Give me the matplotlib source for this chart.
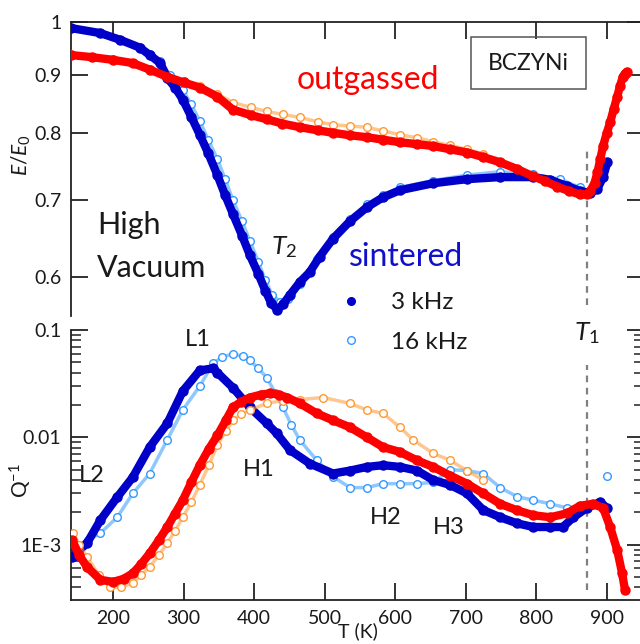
import matplotlib
matplotlib.use("Agg")
import matplotlib.pyplot as plt
from matplotlib.lines import Line2D
from matplotlib.patches import Rectangle

plt.rcParams['font.family'] = ['Lato', 'DejaVu Sans']
plt.rcParams['mathtext.fontset'] = 'custom'
plt.rcParams['mathtext.rm'] = 'Lato'
plt.rcParams['mathtext.it'] = 'Lato:italic'

# ---------------- modulus E/E0 (upper panel) ----------------
sint3_T_mod = [140, 182, 210, 238, 252, 267, 277, 288, 299, 311, 323, 335, 348, 359, 370,
               383, 394, 406, 416, 424, 433, 441, 451, 465, 479, 493, 512, 536, 560, 583,
               607, 654, 702, 749, 796, 820, 844, 862, 877, 887, 895, 901]
sint3_E = [0.988, 0.978, 0.965, 0.950, 0.936, 0.921, 0.894, 0.877, 0.856, 0.827, 0.798, 0.769,
           0.736, 0.707, 0.681, 0.652, 0.627, 0.604, 0.584, 0.570, 0.562, 0.568, 0.579, 0.594,
           0.606, 0.625, 0.648, 0.671, 0.690, 0.704, 0.714, 0.724, 0.730, 0.733, 0.733, 0.729,
           0.720, 0.713, 0.710, 0.716, 0.733, 0.755]

sint16_T_mod = [140, 182, 210, 238, 252, 267, 281, 299, 311, 323, 335, 348, 359, 370, 383,
                394, 406, 416, 426, 437, 448, 465, 489, 512, 536, 560, 583, 607, 654, 702,
                749, 796, 834, 862, 877]
sint16_E = [0.988, 0.978, 0.965, 0.951, 0.938, 0.924, 0.900, 0.873, 0.848, 0.820, 0.790, 0.760,
            0.730, 0.700, 0.671, 0.645, 0.619, 0.596, 0.579, 0.571, 0.574, 0.592, 0.622, 0.650,
            0.674, 0.694, 0.707, 0.718, 0.728, 0.736, 0.741, 0.737, 0.730, 0.718, 0.712]

outg3_T_mod = [140, 170, 200, 228, 252, 277, 300, 323, 348, 370, 395, 418, 440, 465, 490,
               512, 536, 560, 583, 607, 631, 654, 678, 702, 725, 749, 773, 796, 813, 830,
               846, 862, 872, 877, 883, 887, 891, 895, 900, 905, 910, 915, 919, 923, 926, 929]
outg3_E = [0.936, 0.932, 0.927, 0.921, 0.909, 0.896, 0.886, 0.877, 0.861, 0.839, 0.830, 0.823,
           0.816, 0.810, 0.805, 0.801, 0.797, 0.794, 0.790, 0.786, 0.783, 0.780, 0.775, 0.770,
           0.763, 0.755, 0.745, 0.734, 0.727, 0.719, 0.713, 0.708, 0.708, 0.713, 0.725, 0.740,
           0.760, 0.780, 0.800, 0.818, 0.840, 0.861, 0.880, 0.896, 0.902, 0.905]

outg16_T_mod = [140, 200, 252, 300, 323, 348, 370, 395, 418, 441, 465, 490, 512, 536, 560,
                583, 607, 631, 654, 678, 702, 725]
outg16_E = [0.938, 0.928, 0.911, 0.889, 0.880, 0.866, 0.851, 0.843, 0.836, 0.831, 0.826, 0.819,
            0.814, 0.812, 0.810, 0.804, 0.798, 0.793, 0.787, 0.781, 0.775, 0.768]

# ---------------- internal friction Q^-1 (lower panel) ----------------
sint3_T_q = [142, 163, 182, 206, 228, 252, 277, 299, 323, 342, 348, 370, 394, 418, 432, 451,
             479, 512, 536, 560, 583, 607, 631, 654, 678, 702, 725, 749, 773, 796, 820, 838,
             853, 872, 891, 900]
sint3_Q = [7.7e-4, 1.03e-3, 1.69e-3, 2.77e-3, 4.25e-3, 8.1e-3, 1.35e-2, 2.7e-2, 4.2e-2, 4.4e-2,
           4.0e-2, 2.9e-2, 1.9e-2, 1.35e-2, 1.09e-2, 7.6e-3, 5.7e-3, 4.6e-3, 4.9e-3, 5.3e-3,
           5.5e-3, 5.3e-3, 4.9e-3, 4.0e-3, 3.6e-3, 3.0e-3, 2.1e-3, 1.8e-3, 1.58e-3, 1.46e-3,
           1.46e-3, 1.46e-3, 1.8e-3, 2.2e-3, 2.5e-3, 2.2e-3]

sint16_T_q = [150, 165, 182, 206, 228, 252, 277, 299, 323, 342, 355, 370, 384, 394, 406, 418,
              430, 441, 453, 465, 489, 512, 536, 560, 583, 607, 631, 654, 678, 702, 725, 749,
              773, 796, 820, 844, 862]
sint16_Q = [1.0e-3, 1.1e-3, 1.28e-3, 1.8e-3, 3.0e-3, 4.6e-3, 9.5e-3, 1.8e-2, 3.0e-2, 4.9e-2,
            5.6e-2, 6.0e-2, 5.7e-2, 5.2e-2, 4.4e-2, 3.6e-2, 2.6e-2, 1.9e-2, 1.3e-2, 9.4e-3,
            6.1e-3, 4.3e-3, 3.4e-3, 3.4e-3, 3.7e-3, 3.7e-3, 3.7e-3, 3.8e-3, 5.0e-3, 4.9e-3,
            4.6e-3, 3.4e-3, 2.8e-3, 2.6e-3, 2.4e-3, 2.2e-3, 2.3e-3]
sint16_T_q_extra = [900]
sint16_Q_extra = [4.4e-3]

outg3_T_q = [142, 152, 163, 182, 200, 215, 228, 240, 252, 265, 277, 288, 299, 311, 323, 336,
             348, 360, 370, 382, 394, 410, 423, 435, 447, 465, 489, 512, 536, 560, 583, 607,
             631, 654, 678, 702, 725, 749, 773, 796, 820, 844, 862, 880, 895, 905, 915, 922, 926]
outg3_Q = [1.1e-3, 8.0e-4, 6.2e-4, 4.7e-4, 4.5e-4, 4.8e-4, 5.4e-4, 6.6e-4, 8.3e-4, 1.1e-3,
           1.46e-3, 1.95e-3, 2.6e-3, 3.8e-3, 5.5e-3, 7.8e-3, 1.04e-2, 1.44e-2, 1.9e-2, 2.15e-2,
           2.35e-2, 2.5e-2, 2.57e-2, 2.5e-2, 2.35e-2, 2.07e-2, 1.67e-2, 1.44e-2, 1.24e-2, 1.0e-2,
           8.1e-3, 7.3e-3, 6.1e-3, 5.3e-3, 4.4e-3, 3.7e-3, 3.0e-3, 2.4e-3, 2.09e-3, 1.88e-3,
           1.8e-3, 1.96e-3, 2.3e-3, 2.4e-3, 2.2e-3, 1.46e-3, 8.9e-4, 5.4e-4, 3.8e-4]

outg16_T_q = [143, 152, 163, 180, 196, 212, 228, 240, 252, 265, 277, 288, 299, 311, 323, 336,
              348, 360, 370, 382, 394, 418, 441, 465, 498, 536, 560, 583, 607, 626, 654, 678,
              702, 725]
outg16_Q = [1.28e-3, 1.0e-3, 7.7e-4, 5.2e-4, 4.0e-4, 4.0e-4, 4.4e-4, 5.2e-4, 6.2e-4, 8.0e-4,
            1.03e-3, 1.35e-3, 1.8e-3, 2.5e-3, 3.6e-3, 5.5e-3, 8.5e-3, 1.15e-2, 1.44e-2, 1.65e-2,
            1.8e-2, 2.07e-2, 2.2e-2, 2.25e-2, 2.35e-2, 2.07e-2, 1.8e-2, 1.67e-2, 1.24e-2, 9.4e-3,
            7.1e-3, 6.1e-3, 4.9e-3, 4.0e-3]

T1 = 872
x_ticks = [200, 300, 400, 500, 600, 700, 800, 900]
E_ticks = [0.6, 0.7, 0.8, 0.9, 1.0]
E_ticklabels = ["0.6", "0.7", "0.8", "0.9", "1"]
Q_ticks = [1e-3, 1e-2, 1e-1]
Q_ticklabels = ["1E-3", "0.01", "0.1"]

DARK_BLUE = "#0000C8"
LIGHT_BLUE = "#3399FF"
RED = "#FF0000"
ORANGE = "#FF9933"
INK = "#1a1a1a"

W, H = 640, 644
fig = plt.figure(figsize=(W / 100, H / 100), dpi=100)


def fx(px):
    return px / W


def fy(py):
    return 1 - py / H


ax_top = fig.add_axes([fx(71), fy(316), (644 - 71) / W, (316 - 22) / H])
ax_bot = fig.add_axes([fx(71), fy(600), (644 - 71) / W, (600 - 330) / H])


def filled(ax, T, v, color):
    ax.plot(T, v, '-', color=color, lw=6, solid_capstyle='round', zorder=3)
    ax.plot(T, v, 'o', color=color, ms=6.5, mec=color, zorder=3)


def hollow(ax, T, v, color):
    ax.plot(T, v, '-', color=color, lw=2.5, alpha=0.55, zorder=3)
    ax.plot(T, v, 'o', mfc='white', mec=color, ms=5.5, mew=1.0, zorder=3)


hollow(ax_top, sint16_T_mod, sint16_E, LIGHT_BLUE)
filled(ax_top, sint3_T_mod, sint3_E, DARK_BLUE)
hollow(ax_top, outg16_T_mod, outg16_E, ORANGE)
filled(ax_top, outg3_T_mod, outg3_E, RED)

hollow(ax_bot, sint16_T_q, sint16_Q, LIGHT_BLUE)
ax_bot.plot(sint16_T_q_extra, sint16_Q_extra, 'o', mfc='white', mec=LIGHT_BLUE, ms=5.5, mew=1.0)
filled(ax_bot, sint3_T_q, sint3_Q, DARK_BLUE)
hollow(ax_bot, outg16_T_q, outg16_Q, ORANGE)
filled(ax_bot, outg3_T_q, outg3_Q, RED)

for ax in (ax_top, ax_bot):
    ax.set_xlim(140.4, 953)
    ax.set_xticks(x_ticks)
    ax.spines['right'].set_visible(False)
    for s in ax.spines.values():
        s.set_linewidth(1.3)
        s.set_color("#222222")
    ax.tick_params(which='major', direction='in', length=12, width=1.3, color="#222222",
                   labelsize=14, labelcolor=INK, pad=7)
    ax.tick_params(which='minor', direction='in', length=7, width=1.1, color="#222222")

# upper panel
ax_top.set_yscale('log')
ax_top.set_ylim(0.555, 1.0)
ax_top.set_yticks(E_ticks)
ax_top.set_yticklabels(E_ticklabels)
ax_top.yaxis.set_minor_locator(matplotlib.ticker.NullLocator())
ax_top.spines['bottom'].set_visible(False)
ax_top.tick_params(axis='x', bottom=False, top=True, labelbottom=False, labeltop=False)
ax_top.tick_params(axis='y', left=True, right=True, labelleft=True, labelright=False)
ax_top.set_ylabel(r'$E/E_0$', fontsize=15, color=INK)
ax_top.yaxis.set_label_coords(-0.066, 0.548)
ax_top.axvline(T1, ymin=(316 - 305) / 294, ymax=(316 - 148) / 294, color="#808080",
               lw=1.6, ls=(0, (3, 2.5)), zorder=2)

# lower panel
ax_bot.set_yscale('log')
ax_bot.set_ylim(3.05e-4, 0.1)
ax_bot.set_yticks(Q_ticks)
ax_bot.set_yticklabels(Q_ticklabels)
ax_bot.spines['top'].set_visible(False)
ax_bot.tick_params(axis='x', bottom=True, top=False, labelbottom=True)
ax_bot.tick_params(axis='y', which='both', left=True, right=True, labelleft=True,
                   labelright=False)
ax_bot.yaxis.set_minor_formatter(matplotlib.ticker.NullFormatter())
ax_bot.set_ylabel(r'Q$^{-1}$', fontsize=15, color=INK)
ax_bot.yaxis.set_label_coords(-0.064, 0.444)
ax_bot.set_xlabel('T (K)', fontsize=14, color=INK)
ax_bot.xaxis.set_label_coords(0.501, -0.083)
ax_bot.axvline(T1, ymin=(600 - 590) / 270, ymax=(600 - 365) / 270, color="#808080",
               lw=1.6, ls=(0, (3, 2.5)), zorder=2)

# annotations
fig.text(fx(297), fy(80), 'outgassed', color=RED, fontsize=23, va='center', ha='left')
fig.text(fx(349), fy(257), 'sintered', color="#1010CC", fontsize=23, va='center', ha='left')
fig.text(fx(97), fy(225), 'High', color=INK, fontsize=22, va='center', ha='left')
fig.text(fx(97), fy(268), 'Vacuum', color=INK, fontsize=22, va='center', ha='left')
fig.text(fx(271), fy(247), r'$T_2$', color=INK, fontsize=19, va='center', ha='left')
fig.text(fx(574), fy(333), r'$T_1$', color=INK, fontsize=19, va='center', ha='left')
for label, x, y in [('L1', 185, 340), ('L2', 79, 475), ('H1', 243, 470), ('H2', 370, 518),
                    ('H3', 433, 528)]:
    fig.text(fx(x), fy(y), label, color=INK, fontsize=17, va='center', ha='left')

fig.patches.append(Rectangle((fx(471), fy(89)), fx(586) - fx(471), fy(37) - fy(89),
                             transform=fig.transFigure, fill=False, edgecolor="#555555",
                             lw=1.1))
fig.text(fx(528), fy(63), 'BCZYNi', color=INK, fontsize=16.5, va='center', ha='center')

handles = [Line2D([], [], ls='none', marker='o', color=DARK_BLUE, ms=5.5),
           Line2D([], [], ls='none', marker='o', mfc='white', mec=LIGHT_BLUE, ms=5.5, mew=1.0)]
fig.legend(handles, ['3 kHz', '16 kHz'], loc='upper left',
           bbox_to_anchor=(fx(341), fy(292)), frameon=False, fontsize=17.5,
           handlelength=0.8, handletextpad=1.25, labelspacing=0.78, borderpad=0,
           borderaxespad=0, labelcolor=INK)

fig.savefig('out.png', dpi=100)
